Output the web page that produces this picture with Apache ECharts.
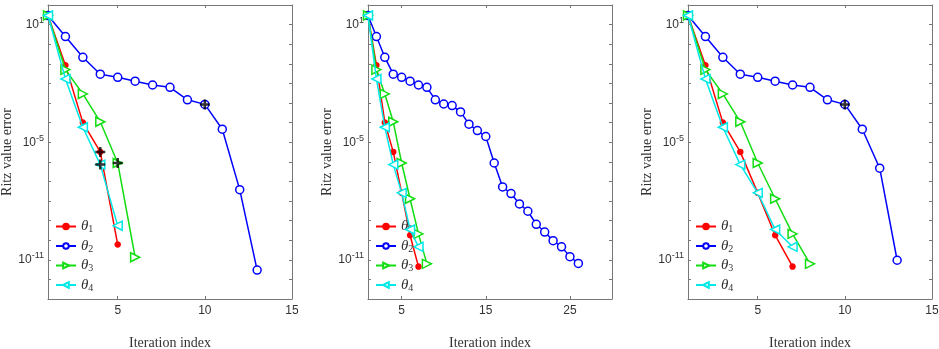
<!DOCTYPE html>
<html>
<head>
<meta charset="utf-8">
<script src="https://cdn.jsdelivr.net/npm/echarts@6/dist/echarts.min.js"></script>
<style>
  html, body { margin: 0; padding: 0; background: #fff; }
  #chart { width: 939px; height: 349px; }
</style>
</head>
<body>
<div id="chart"></div>
<script>
// values, iteration index starts at 1
var names = ['θ1', 'θ2', 'θ3', 'θ4']

// left panel
var p1Theta1 = [29, 0.085, 1.0e-4, 3.2e-6, 6.0e-11]
var p1Theta2 = [29, 2.45, 0.214, 0.0295, 0.0204, 0.0129, 0.0083, 0.0063, 0.00145, 8.5e-4, 4.6e-5, 3.8e-8, 3.0e-12]
var p1Theta3 = [29, 0.05, 2.9e-3, 1.1e-4, 8.7e-7, 1.35e-11]
var p1Theta4 = [29, 0.017, 5.8e-5, 7.2e-7, 5.5e-10]
var p1Marks = [[4, 3.2e-6], [4, 7.2e-7], [5, 8.7e-7], [10, 8.5e-4]]

// middle panel
var p2Theta1 = [29, 0.085, 1.0e-4, 3.2e-6, 2.6e-8, 1.8e-10, 4.5e-12]
var p2Theta2 = [29, 2.45, 0.214, 0.0295, 0.0204, 0.0129, 0.0083, 0.0063, 0.00145, 8.9e-4, 7.4e-4, 3.5e-4, 8.3e-5,
    3.9e-5, 1.95e-5, 8.7e-7, 5.2e-8, 2.4e-8, 7.1e-9, 3.0e-9, 6.5e-10, 2.6e-10, 9.5e-11, 4.6e-11, 1.45e-11, 6.5e-12]
var p2Theta3 = [29, 0.05, 2.9e-3, 1.1e-4, 8.7e-7, 1.3e-8, 2.1e-10, 6.2e-12]
var p2Theta4 = [29, 0.017, 5.8e-5, 7.2e-7, 2.6e-8, 3.5e-10, 4.6e-11]
var p2Marks = []

// right panel
var p3Theta1 = [29, 0.085, 1.0e-4, 3.2e-6, 2.6e-8, 1.8e-10, 4.5e-12]
var p3Theta2 = [29, 2.45, 0.214, 0.0295, 0.0204, 0.0129, 0.0083, 0.0063, 0.00145, 8.5e-4, 4.6e-5, 4.7e-7, 9.5e-12]
var p3Theta3 = [29, 0.05, 2.9e-3, 1.1e-4, 8.7e-7, 1.3e-8, 2.1e-10, 6.2e-12]
var p3Theta4 = [29, 0.017, 5.8e-5, 7.2e-7, 2.6e-8, 3.5e-10, 4.6e-11]
var p3Marks = [[10, 8.5e-4]]

var xMax = [15, 30, 15]
var xTicks = [[5, 10, 15], [5, 15, 25], [5, 10, 15]]
var yLabelExp = [1, -5, -11]

var panels = [
    { lines: [p1Theta1, p1Theta2, p1Theta3, p1Theta4], marks: p1Marks },
    { lines: [p2Theta1, p2Theta2, p2Theta3, p2Theta4], marks: p2Marks },
    { lines: [p3Theta1, p3Theta2, p3Theta3, p3Theta4], marks: p3Marks }
]
var gridLeft = [48, 368, 688]

var styles = [
    { color: '#ff0000', symbol: 'circle', size: 5, rotate: 0, fill: '#ff0000' },
    { color: '#0000ff', symbol: 'circle', size: 8, rotate: 0, fill: '#ffffff' },
    { color: '#11dd11', symbol: 'triangle', size: 9, rotate: -90, fill: '#ffffff' },
    { color: '#00e8e8', symbol: 'triangle', size: 9, rotate: 90, fill: '#ffffff' }
]
var plusPath = 'path://M3.75,0h2.5v3.75h3.75v2.5h-3.75v3.75h-2.5v-3.75h-3.75v-2.5h3.75z'
var frameColor = '#777'

function toPoints(arr) {
    return arr.map(function (v, i) { return [i + 1, v] })
}

var grid = [], xAxis = [], yAxis = [], series = [], legend = []

panels.forEach(function (p, k) {
    grid.push({ left: gridLeft[k], top: 5, width: 244, height: 294, containLabel: false, outerBoundsMode: 'none' })
    // bottom and top x axes
    xAxis.push({
        type: 'value', gridIndex: k, min: 1, max: xMax[k], position: 'bottom',
        name: 'Iteration index', nameLocation: 'middle', nameGap: 37,
        nameTextStyle: { fontFamily: 'Liberation Serif', fontSize: 14, color: '#333' },
        axisLine: { lineStyle: { color: frameColor } },
        axisTick: { inside: true, length: 3, customValues: xTicks[k], lineStyle: { color: frameColor } },
        axisLabel: { customValues: xTicks[k], fontFamily: 'Liberation Sans', fontSize: 12, color: '#333', margin: 6 },
        splitLine: { show: false }
    })
    xAxis.push({
        type: 'value', gridIndex: k, min: 1, max: xMax[k], position: 'top',
        axisLine: { lineStyle: { color: frameColor } },
        axisTick: { inside: true, length: 3, customValues: xTicks[k], lineStyle: { color: frameColor } },
        axisLabel: { show: false },
        splitLine: { show: false }
    })
    // left and right log axes
    yAxis.push({
        type: 'log', gridIndex: k, min: 1e-13, max: 1e2, interval: 1, position: 'left',
        name: 'Ritz value error', nameLocation: 'middle', nameGap: 34,
        nameTextStyle: { fontFamily: 'Liberation Serif', fontSize: 14, color: '#333' },
        axisLine: { show: true, lineStyle: { color: frameColor } },
        axisTick: { show: true, inside: true, length: 3, lineStyle: { color: frameColor } },
        axisLabel: {
            margin: 4,
            formatter: function (v) {
                var e = Math.round(Math.log10(v))
                if (yLabelExp.indexOf(e) < 0) return ''
                return '{b|10}{s|' + e + '}'
            },
            rich: {
                b: { fontFamily: 'Liberation Sans', fontSize: 12, color: '#333', lineHeight: 17 },
                s: { fontFamily: 'Liberation Sans', fontSize: 9, color: '#333', verticalAlign: 'top', lineHeight: 17 }
            }
        },
        splitLine: { show: false }
    })
    yAxis.push({
        type: 'log', gridIndex: k, min: 1e-13, max: 1e2, interval: 1, position: 'right',
        axisLine: { show: true, lineStyle: { color: frameColor } },
        axisTick: { show: true, inside: true, length: 3, lineStyle: { color: frameColor } },
        axisLabel: { show: false },
        splitLine: { show: false }
    })

    p.lines.forEach(function (vals, j) {
        var s = styles[j]
        series.push({
            name: names[j], type: 'line', xAxisIndex: 2 * k, yAxisIndex: 2 * k,
            data: toPoints(vals),
            symbol: s.symbol, symbolSize: s.size, symbolRotate: s.rotate,
            lineStyle: { color: s.color, width: 1.5 },
            itemStyle: { color: s.fill, borderColor: s.color, borderWidth: 1.5 },
            emphasis: { disabled: true },
            animation: false, z: 2 + j
        })
    })
    series.push({
        type: 'scatter', xAxisIndex: 2 * k, yAxisIndex: 2 * k,
        data: p.marks, symbol: plusPath, symbolSize: 10,
        itemStyle: { color: '#000' }, animation: false, z: 10
    })

    legend.push({
        data: names, orient: 'vertical', left: gridLeft[k] + 2, top: 214,
        itemWidth: 20, itemHeight: 7, itemGap: 4,
        formatter: function (n) { return '{t|θ}{s|' + n.slice(1) + '}' },
        textStyle: {
            rich: {
                t: { fontFamily: 'Liberation Serif', fontStyle: 'italic', fontSize: 15, color: '#333', lineHeight: 16 },
                s: { fontFamily: 'Liberation Serif', fontSize: 10, color: '#333', verticalAlign: 'bottom', lineHeight: 16 }
            }
        }
    })
})

var chart = echarts.init(document.getElementById('chart'))
chart.setOption({
    animation: false,
    grid: grid,
    xAxis: xAxis,
    yAxis: yAxis,
    legend: legend,
    series: series
})
</script>
</body>
</html>
